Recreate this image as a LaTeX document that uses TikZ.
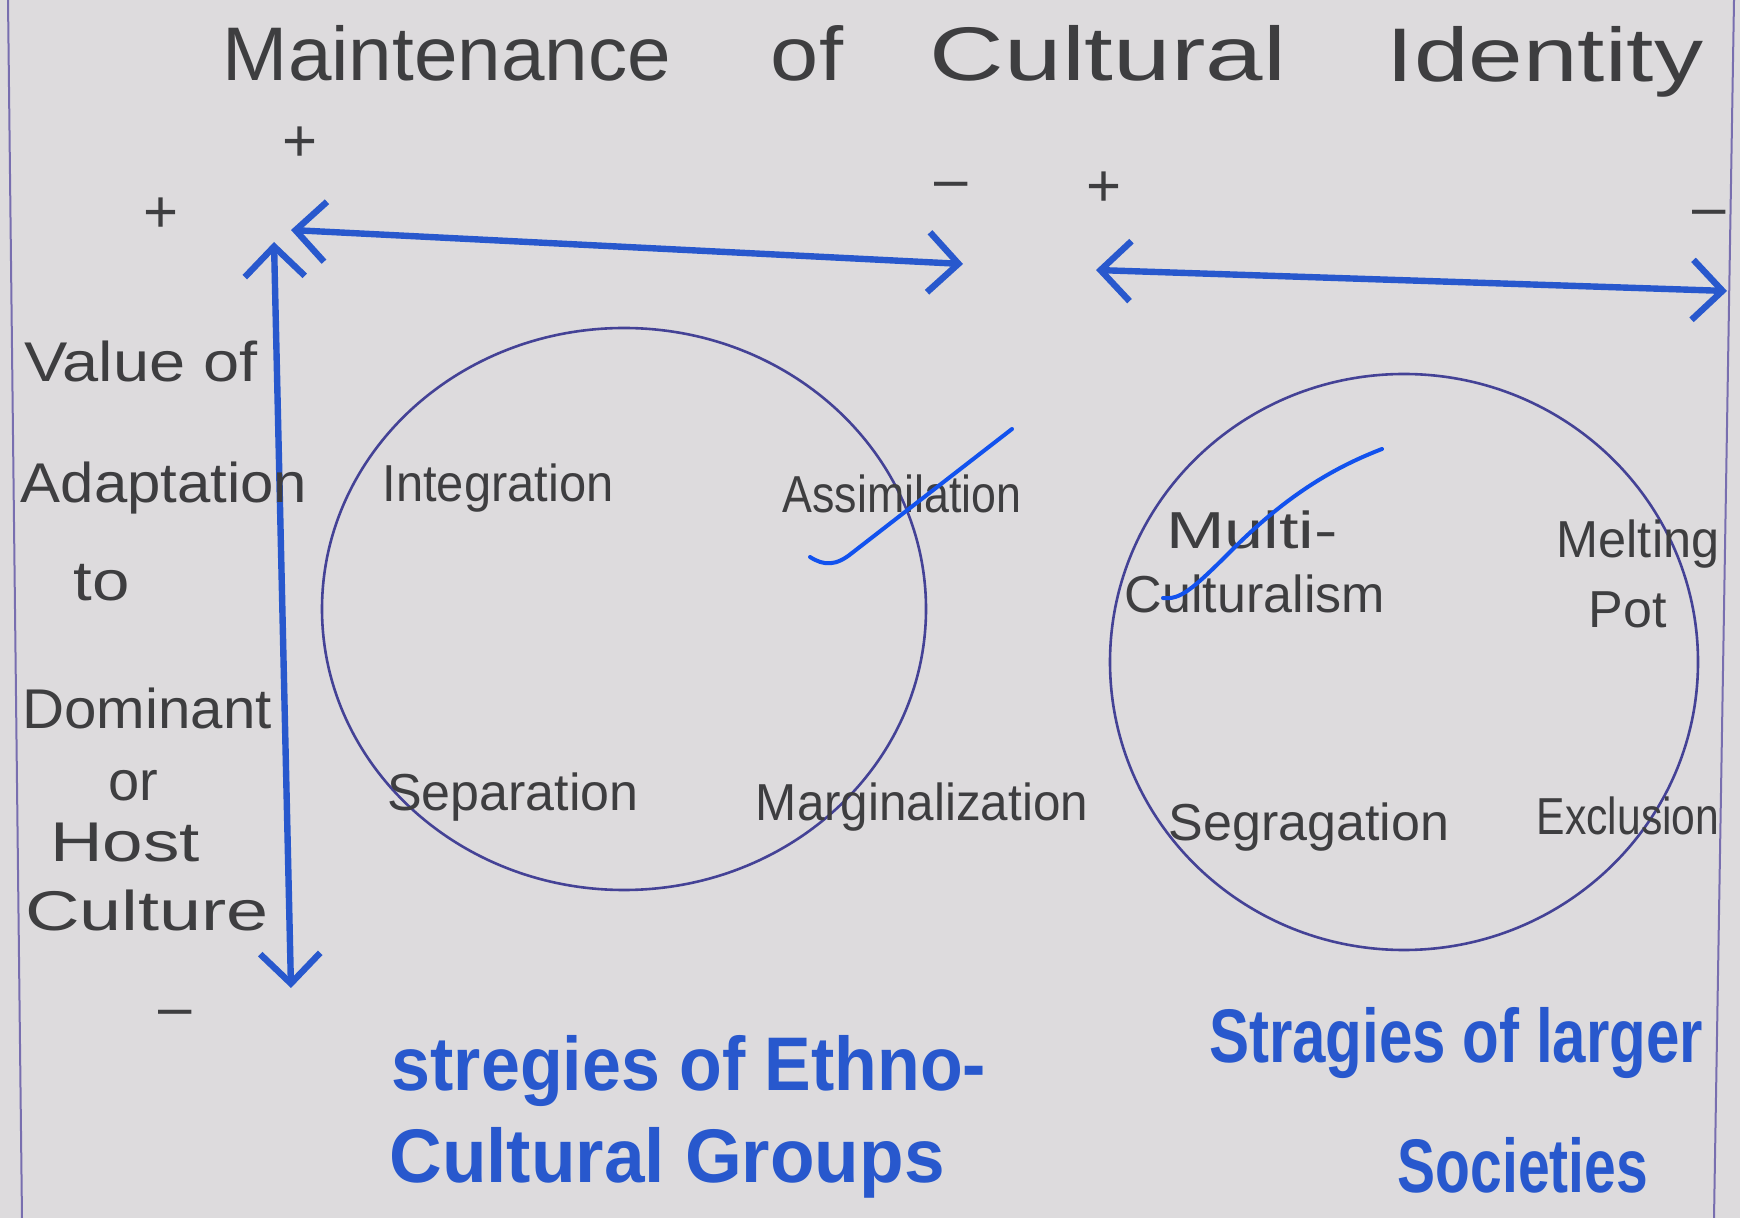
\documentclass[tikz,border=0pt]{standalone}
\usepackage{fontspec}
\setmainfont{Liberation Sans}
\usetikzlibrary{arrows.meta}
\definecolor{paper}{RGB}{221,219,221}
\definecolor{ink}{RGB}{62,62,64}
\definecolor{pen}{RGB}{40,88,205}
\definecolor{circink}{RGB}{68,66,150}
\definecolor{tick}{RGB}{18,82,238}
\definecolor{marginline}{RGB}{120,110,175}
\newcommand{\hsc}[2]{\scalebox{#1}[1]{#2}}
\begin{document}
\begin{tikzpicture}[x=0.5pt,y=-0.5pt,
  titletxt/.style={text=ink,font=\fontsize{38}{44}\selectfont,inner sep=0pt},
  sidetxt/.style={text=ink,font=\fontsize{28}{32}\selectfont,inner sep=0pt},
  labtxt/.style={text=ink,font=\fontsize{26}{30}\selectfont,inner sep=0pt},
  bluetxt/.style={text=pen,font=\bfseries\fontsize{38}{44}\selectfont,inner sep=0pt},
  signtxt/.style={text=ink,font=\fontsize{30}{34}\selectfont,inner sep=0pt},
  axisarrow/.style={draw=pen,line width=3.2pt,line cap=round,
    >={Straight Barb[length=15pt,width=30pt]},<->},
  ring/.style={draw=circink,line width=1.3pt},
  tickmark/.style={draw=tick,line width=2pt,line cap=round,line join=round},
  edge/.style={draw=marginline,line width=1pt}]
% paper
\fill[paper] (0,0) rectangle (1740,1218);
\useasboundingbox (0,0) rectangle (1740,1218);
\draw[edge] (8,0) -- (22,1218);
\draw[edge] (1734,0) -- (1714,1218);

% title
\node[titletxt] (t1) at (447,53) {\hsc{1.03}{Maintenance}};
\node[titletxt] (t2) at (807,53) {\hsc{1.14}{of}};
\node[titletxt] (t3) at (1108,53) {\hsc{1.36}{Cultural}};
\node[titletxt] (t4) at (1545,62) {\hsc{1.29}{Identity}};

% signs
\node[signtxt] (p1) at (300,144) {+};
\node[signtxt] (p2) at (161,215) {+};
\node[signtxt] (p3) at (1104,189) {+};
\node[signtxt] (m1) at (951,191) {–};
\node[signtxt] (m2) at (1709,219) {–};
\node[signtxt] (m3) at (175,1019) {–};

% axes
\coordinate (h1a) at (291,230);
\coordinate (h1b) at (963,264);
\coordinate (h2a) at (1096,270);
\coordinate (h2b) at (1727,291);
\coordinate (vt) at (274,242);
\coordinate (vb) at (291,988);
\draw[axisarrow] (h1a) -- (h1b);
\draw[axisarrow] (h2a) -- (h2b);
\draw[axisarrow] (vt) -- (vb);

% side label
\node[sidetxt] (s1) at (141,361) {\hsc{1.16}{Value of}};
\node[sidetxt] (s2) at (164,488) {\hsc{1.07}{Adaptation}};
\node[sidetxt] (s3) at (102,583) {\hsc{1.2}{to}};
\node[sidetxt] (s4) at (147,708) {\hsc{1.04}{Dominant}};
\node[sidetxt] (s5) at (133,786) {or};
\node[sidetxt] (s6) at (125,843) {\hsc{1.3}{Host}};
\node[sidetxt] (s7) at (147,910) {\hsc{1.35}{Culture}};

% circles
\draw[ring] (624,609) ellipse [x radius=151pt, y radius=140.5pt];
\draw[ring] (1404,662) ellipse [x radius=147pt, y radius=144pt];

% circle 1 labels
\node[labtxt] (c1a) at (498,488) {\hsc{0.94}{Integration}};
\node[labtxt] (c1b) at (902,494) {\hsc{0.86}{Assimilation}};
\node[labtxt] (c1c) at (513,797) {Separation};
\node[labtxt] (c1d) at (922,807) {\hsc{0.95}{Marginalization}};

% circle 2 labels
\node[labtxt] (c2a) at (1252,530) {\hsc{1.35}{Multi-}};
\node[labtxt] (c2b) at (1255,594) {Culturalism};
\node[labtxt] (c2c) at (1638,544) {\hsc{0.97}{Melting}};
\node[labtxt] (c2d) at (1628,610) {Pot};
\node[labtxt] (c2e) at (1309,827) {Segragation};
\node[labtxt] (c2f) at (1628,816) {\hsc{0.82}{Exclusion}};

% blue strokes
\draw[tickmark] (810,557) .. controls (824,566) and (836,566) .. (852,553) -- (1012,429);
\draw[tickmark] (1163,598) .. controls (1180,600) and (1192,590) .. (1232,550)
  .. controls (1290,492) and (1338,466) .. (1382,449);

% bottom captions
\node[bluetxt] (b1) at (689,1071) {\hsc{0.92}{stregies of Ethno-}};
\node[bluetxt] (b2) at (667,1163) {\hsc{0.96}{Cultural Groups}};
\node[bluetxt] (b3) at (1456,1043) {\hsc{0.79}{Stragies of larger}};
\node[bluetxt] (b4) at (1523,1165) {\hsc{0.75}{Societies}};
\end{tikzpicture}
\end{document}
